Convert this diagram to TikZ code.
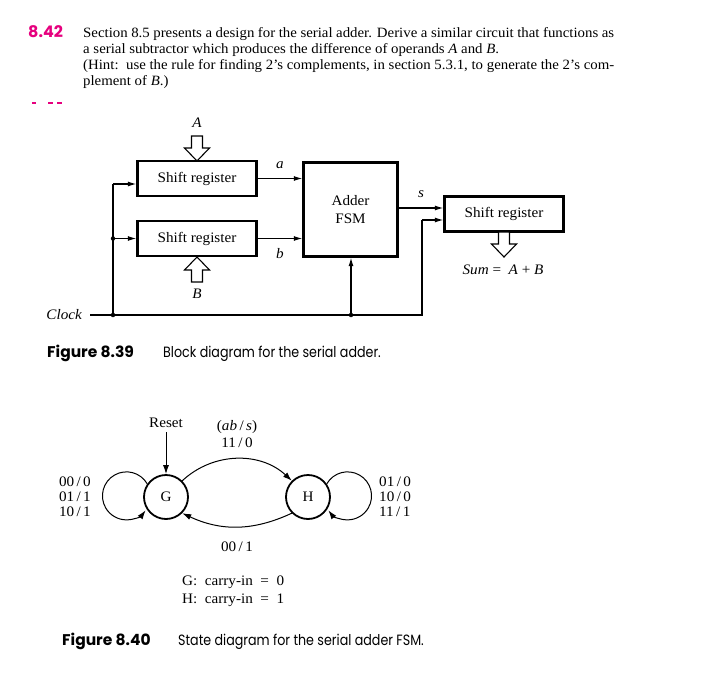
\documentclass[tikz,border=0pt]{standalone}
\usepackage{fontspec}
\setmainfont[FakeStretch=1.045]{Liberation Serif}
\newfontfamily\capfont[FakeStretch=0.85]{Poppins}
\newfontfamily\capboldfont{Poppins}
\usepackage{xcolor}
\usetikzlibrary{arrows.meta,positioning,calc}
\definecolor{probmag}{RGB}{230,0,126}

\tikzset{
  regbox/.style={draw, line width=2.4pt, minimum width=119pt, minimum height=35pt, inner sep=0pt, font=\fontsize{14.5}{15}\selectfont},
  wire/.style={line width=1.1pt},
  sig/.style={wire, -{Latex[length=8.5pt,width=5pt]}},
  state/.style={draw, circle, line width=1.8pt, minimum size=44pt, inner sep=0pt, font=\fontsize{14.5}{15}\selectfont},
  trans/.style={line width=1pt, -{Latex[length=9pt,width=6pt]}},
  lbl/.style={inner sep=0pt, font=\fontsize{14.5}{15}\selectfont},
  ilbl/.style={inner sep=0pt, font=\fontsize{14.5}{15}\selectfont\itshape},
  probline/.style={inner sep=0pt, anchor=base west, font=\fontsize{14.2}{16}\selectfont},
  figcap/.style={inner sep=0pt, anchor=base west, font=\capfont\fontsize{14.9}{16}\selectfont},
  fignum/.style={inner sep=0pt, anchor=base west, font=\capboldfont\bfseries\fontsize{15.5}{16}\selectfont},
  hollow down/.pic={\draw[line width=1.1pt, fill=white] (0,0) -- (12.5,13) -- (5.5,13) -- (5.5,25) -- (-5.5,25) -- (-5.5,13) -- (-12.5,13) -- cycle;}
}

\begin{document}
\begin{tikzpicture}[x=1pt, y=1pt]
  \useasboundingbox (0,0) rectangle (702,-688);

  % Problem statement
  \node[fignum, text=probmag, font=\capboldfont\bfseries\fontsize{16}{16}\selectfont] (num) at (28,-37) {8.42};
  \node[probline] (prob1) at (83,-37) {\makebox[531pt][s]{Section 8.5 presents a design for the serial adder. Derive a similar circuit that functions as}};
  \node[probline] (prob2) at (83,-53) {a serial subtractor which produces the difference of operands \textit{A} and \textit{B}.};
  \node[probline] (prob3) at (83,-69) {\makebox[531pt][s]{(Hint:\ \ use the rule for finding 2's complements, in section 5.3.1, to generate the 2's com-}};
  \node[probline] (prob4) at (83,-85) {plement of \textit{B}.)};
  \draw[probmag, line width=1.5pt] (32,-103) -- (36,-103);
  \draw[probmag, line width=1.5pt] (48,-103) -- (53,-103);
  \draw[probmag, line width=1.5pt] (57,-103) -- (62,-103);

  % Block diagram
  \node[regbox] (regA) at (197,-178.5) {Shift register};
  \node[regbox] (regB) at (197,-238.5) {Shift register};
  \node[draw, line width=2.4pt, minimum width=94pt, minimum height=94pt, align=center, font=\fontsize{14.5}{18}\selectfont] (adder) at (350.5,-209.5) {Adder\\FSM};
  \node[regbox] (outreg) at (504,-214) {Shift register};

  \pic at (197,-161) {hollow down};
  \pic[rotate=180] at (197,-257) {hollow down};
  \pic at (504,-257) {hollow down};
  \node[ilbl] (inA) at (197,-123) {A};
  \node[ilbl] (inB) at (197,-294) {B};
  \node[lbl] (sum) at (503,-270) {\textit{Sum}\ =\ \ \textit{A} + \textit{B}};

  \draw[sig] (regA.east) -- (regA.east -| adder.west) node[ilbl, pos=0.5, above=9pt] (la) {a};
  \draw[sig] (regB.east) -- (regB.east -| adder.west) node[ilbl, pos=0.5, below=9pt] (lb) {b};
  \draw[sig] ($(adder.east)+(0,1.5)$) -- ($(adder.east -| outreg.west)+(0,1.5)$) node[ilbl, pos=0.5, above=10pt] (ls) {s};

  % Clock distribution
  \node[ilbl, anchor=east] (clk) at (82,-315) {Clock};
  \coordinate (cL) at (113,-315);
  \coordinate (cM) at (351,-315);
  \coordinate (cR) at (422,-315);
  \draw[wire] (clk.east) ++(8,0) -- (cR) -- (cR |- 0,-220);
  \draw[sig] (cR |- 0,-220) -- (outreg.west |- 0,-220);
  \draw[wire] (cL) -- (113,-184);
  \draw[sig] (113,-184) -- (regA.west |- 0,-184);
  \draw[sig] (113,-238.5) -- (regB.west);
  \draw[sig] (cM) -- (cM |- adder.south);
  \filldraw (113,-238.5) circle (2pt);
  \filldraw (cL) circle (2pt);
  \filldraw (cM) circle (2pt);

  \node[fignum] (fig39) at (47,-357) {Figure 8.39};
  \node[figcap] (cap39) at (163,-357) {Block diagram for the serial adder.};

  % State diagram
  \node[state] (G) at (166,-497) {G};
  \node[state] (H) at (308,-497) {H};
  \node[lbl] (reset) at (166,-423) {Reset};
  \draw[trans] ($(reset.south)+(0,-4)$) -- (G);
  \draw[trans] (G.45) to[out=43, in=137] (H.135);
  \draw[trans] (H.225) to[out=205, in=335] (G.-45);
  % self loops
  \draw[trans] (G.145) arc[start angle=30, end angle=323, radius=24pt];
  \draw[trans] (H.35) arc[start angle=150, end angle=-143, radius=24pt];

  \node[lbl] (io) at (237,-427) {(\textit{ab}\,/\,\textit{s})};
  \node[lbl] (t1) at (237,-443) {11\,/\,0};
  \node[lbl] (t2) at (237,-547) {00\,/\,1};
  \node[lbl, anchor=east, align=right] (lg) at (91,-497) {00\,/\,0\\01\,/\,1\\10\,/\,1};
  \node[lbl, anchor=west, align=left] (lh) at (379,-497) {01\,/\,0\\10\,/\,0\\11\,/\,1};
  \node[lbl, anchor=west, align=left, font=\fontsize{14.5}{18}\selectfont] (carry) at (182,-591)
    {G:\ \ carry-in\ \ =\ \ 0\\H:\ \ carry-in\ \ =\ \ 1};

  \node[fignum] (fig40) at (62,-645) {Figure 8.40};
  \node[figcap] (cap40) at (178,-645) {State diagram for the serial adder FSM.};
\end{tikzpicture}
\end{document}
